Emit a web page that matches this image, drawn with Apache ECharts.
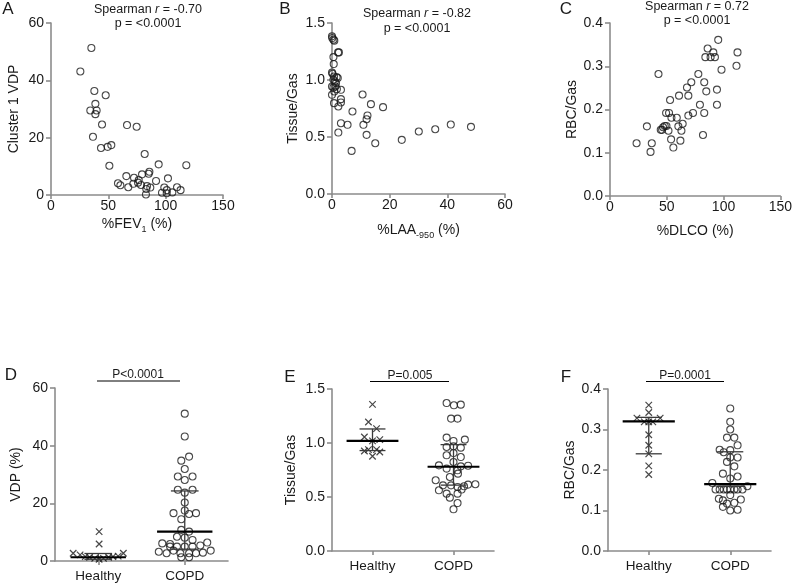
<!DOCTYPE html>
<html>
<head>
<meta charset="utf-8">
<script src="https://cdn.jsdelivr.net/npm/echarts@6/dist/echarts.min.js"></script>
<style>
html, body { margin: 0; padding: 0; background: #fff; }
#chart { width: 795px; height: 584px; }
</style>
</head>
<body>
<div id="chart"></div>
<script>
const FONT = '"Liberation Sans", Arial, sans-serif';
const AXIS_GREY = '#8c8c8c';
const INK = '#1a1a1a';

// A: %FEV1 vs cluster 1 VDP
const fev1 = [35.2, 25.6, 37.8, 47.7, 38.7, 34.3, 39.8, 38.7, 44.5, 66.3, 74.7, 36.6, 43.6, 49.4, 52.6, 50.9, 81.7, 93.9, 118, 65.7, 72.4, 79.4, 85.8, 85.2, 76.5, 102, 58.4, 60.5, 67.4, 71.8, 75.9, 78.5, 83.7, 86.6, 91.6, 83.1, 82.8, 98.8, 101, 96.8, 100.9, 105.8, 109.9, 113];
const vdpA = [51.3, 43.1, 36.3, 34.8, 31.8, 29.5, 29.5, 28.2, 24.6, 24.4, 23.8, 20.3, 16.4, 16.8, 17.4, 10.2, 14.3, 10.7, 10.4, 6.6, 6.0, 7.2, 8.1, 7.4, 5.2, 5.8, 4.1, 3.4, 2.7, 3.9, 4.3, 3.5, 3.1, 2.6, 4.9, 2.1, 0.2, 2.6, 1.7, 0.8, 0.6, 0.9, 2.7, 1.7];

// B: %LAA-950 vs tissue/gas
const laa = [0, 0.1, 0.5, 0.8, 2.1, 2.4, 0.5, 0.6, 0, 0.2, 0.7, 1.6, 2.0, 0.5, 1.0, 0, 0.5, 1.2, 1.4, 1.7, 0.8, 3.1, 0, 0.7, 3.1, 3.1, 2.2, 10.6, 7.1, 13.5, 17.7, 12.3, 12.0, 10.9, 3.1, 5.4, 2.2, 12.0, 15.0, 6.8, 24.2, 30.1, 35.8, 41.2, 48.2];
const tissueB = [1.383, 1.368, 1.354, 1.345, 1.242, 1.242, 1.201, 1.140, 1.066, 1.055, 1.031, 1.025, 1.017, 1.002, 0.987, 0.943, 0.935, 0.943, 0.973, 0.920, 0.899, 0.914, 0.870, 0.797, 0.832, 0.803, 0.768, 0.873, 0.724, 0.788, 0.762, 0.689, 0.656, 0.607, 0.621, 0.607, 0.539, 0.519, 0.445, 0.378, 0.475, 0.548, 0.568, 0.609, 0.589];

// C: %DLCO vs RBC/gas
const dlco = [95.3, 86, 91, 84, 88.6, 92.4, 112.3, 111.4, 98.2, 42.7, 77.8, 71.6, 83, 67.8, 94.2, 84.8, 52.9, 60.8, 69, 79.2, 94.2, 49.4, 52, 73.1, 83, 58.8, 54.1, 69, 64, 60.2, 32.5, 48.2, 49.7, 46.8, 44.7, 45.9, 51.5, 62.9, 81.9, 53.8, 62, 23.4, 36.8, 35.7, 55.8];
const rbcC = [0.361, 0.341, 0.332, 0.321, 0.321, 0.321, 0.332, 0.301, 0.292, 0.282, 0.282, 0.263, 0.263, 0.251, 0.246, 0.242, 0.222, 0.232, 0.232, 0.211, 0.211, 0.192, 0.192, 0.192, 0.192, 0.181, 0.181, 0.186, 0.167, 0.161, 0.161, 0.162, 0.162, 0.159, 0.153, 0.153, 0.151, 0.151, 0.141, 0.131, 0.128, 0.122, 0.122, 0.102, 0.112];

const groups = ['Healthy', 'COPD'];

// D: VDP (%) by group (spread = horizontal offset within the column)
const dHealthy = [10.2, 5.9, 2.7, 2.1, 1.5, 1.3, 0.9, 0.6, 0.9, 1.3, 1.5, 1.7, 2.7];
const dHealthySpread = [0.01, 0.01, -0.29, -0.21, -0.15, -0.1, -0.04, 0.01, 0.06, 0.12, 0.17, 0.23, 0.29];
const dCopd = [51.1, 43.2, 36.2, 34.8, 31.9, 29.3, 29.3, 28.1, 24.7, 24.7, 23.7, 20.3, 16.6, 17.5, 16.3, 16.6, 14.5, 10.8, 10.2, 8.4, 8.1, 7.3, 5.9, 6.4, 6.1, 5.0, 5.0, 5.0, 5.0, 5.4, 3.2, 2.7, 3.6, 2.7, 2.7, 2.7, 2.9, 3.6, 1.3, 1.3];
const dCopdSpread = [0, 0, 0.05, -0.04, 0, -0.08, 0.09, 0, -0.08, 0.09, 0, 0, -0.13, 0, 0.05, 0.13, -0.04, -0.04, 0.05, -0.09, 0, 0.09, -0.17, 0.26, -0.26, -0.17, -0.09, 0, 0.09, 0.18, -0.3, -0.21, -0.13, -0.05, 0.05, 0.13, 0.21, 0.3, -0.04, 0.05];
const dMedian = [1.3, 10.2];
const dQ1 = [0.6, 4.1];
const dQ3 = [2.6, 24.3];

// E: tissue/gas by group
const eHealthy = [1.358, 1.194, 1.133, 1.056, 1.031, 1.019, 0.939, 0.926, 0.939, 0.917, 0.877];
const eHealthySpread = [0, -0.05, 0.05, -0.1, 0.09, 0, -0.05, -0.1, 0.05, 0.09, 0];
const eCopd = [1.370, 1.349, 1.355, 1.226, 1.226, 1.050, 1.019, 1.031, 0.963, 0.969, 0.957, 0.886, 0.907, 0.870, 0.824, 0.793, 0.763, 0.784, 0.790, 0.747, 0.685, 0.716, 0.655, 0.608, 0.608, 0.593, 0.599, 0.615, 0.618, 0.569, 0.562, 0.531, 0.494, 0.531, 0.444, 0.386];
const eCopdSpread = [-0.085, 0.005, 0.09, -0.03, 0.05, -0.085, 0, 0.14, -0.085, 0, 0.09, -0.085, 0, 0.09, 0, -0.18, -0.085, 0.09, 0.18, 0.05, -0.045, 0.055, -0.22, -0.13, -0.03, 0.05, 0.13, 0.18, 0.27, 0.1, -0.18, -0.085, -0.045, 0.05, 0.05, 0];
const eMedian = [1.02, 0.78];
const eQ1 = [0.93, 0.61];
const eQ3 = [1.13, 0.985];

// F: RBC/gas by group
const fHealthy = [0.360, 0.342, 0.328, 0.328, 0.319, 0.319, 0.319, 0.287, 0.261, 0.240, 0.210, 0.189];
const fHealthySpread = [0, 0, -0.145, 0.14, -0.055, 0.05, 0, 0, 0, 0, 0, 0];
const fCopd = [0.352, 0.319, 0.300, 0.280, 0.280, 0.261, 0.250, 0.244, 0.249, 0.231, 0.220, 0.231, 0.209, 0.191, 0.184, 0.179, 0.168, 0.152, 0.152, 0.152, 0.152, 0.152, 0.152, 0.152, 0.152, 0.160, 0.129, 0.125, 0.138, 0.127, 0.117, 0.119, 0.109, 0.100, 0.102];
const fCopdSpread = [0, 0, 0, -0.04, 0.05, 0.09, -0.13, -0.08, 0, 0, -0.04, 0.09, 0.05, -0.09, 0.09, 0, -0.22, -0.18, -0.13, -0.08, -0.04, 0, 0.05, 0.09, 0.15, 0.21, -0.14, -0.09, 0, 0.13, -0.04, 0.05, -0.09, 0, 0.09];
const fMedian = [0.32, 0.165];
const fQ1 = [0.24, 0.16];
const fQ3 = [0.33, 0.245];

const zip = (xs, ys) => xs.map((x, i) => [x, ys[i]]);
const swarm = (cat, spread, vals) => vals.map((v, i) => [cat + 0.5 + spread[i], v]);
const summary = (med, q1, q3) => med.map((m, i) => [i + 0.5, m, q1[i], q3[i]]);

const MED_HALF = 0.32;
const CAP_HALF = 0.16;

const labelStyle = { fontSize: 14, color: INK, fontFamily: FONT };
const lineStyle = { color: AXIS_GREY, width: 1.6 };

function yAxis(gi, min, max, interval, name, gap, dec) {
  return {
    type: 'value', gridIndex: gi, min, max, interval,
    name, nameLocation: 'middle', nameGap: gap,
    nameTextStyle: { fontSize: 14, color: INK, fontFamily: FONT },
    axisLine: { show: true, lineStyle },
    axisTick: { show: true, length: 5, lineStyle },
    axisLabel: Object.assign({ margin: 7, formatter: v => dec ? v.toFixed(dec) : String(v) }, labelStyle),
    splitLine: { show: false }
  };
}

function xValueAxis(gi, min, max, interval, name, gap) {
  return {
    type: 'value', gridIndex: gi, min, max, interval,
    name, nameLocation: 'middle', nameGap: gap,
    nameTextStyle: {
      fontSize: 14, color: INK, fontFamily: FONT, lineHeight: 20,
      rich: { s: { fontSize: 9, lineHeight: 8, verticalAlign: 'bottom', fontFamily: FONT, color: INK } }
    },
    axisLine: { show: true, onZero: false, lineStyle },
    axisTick: { show: true, length: 4, lineStyle },
    axisLabel: Object.assign({ margin: 4 }, labelStyle),
    splitLine: { show: false }
  };
}

function xCategoryAxis(gi) {
  return {
    type: 'category', gridIndex: gi, data: groups,
    axisLine: { show: true, onZero: false, lineStyle },
    axisTick: { show: true, length: 4, alignWithLabel: true, lineStyle },
    axisLabel: { margin: 8, fontSize: 13.5, color: INK, fontFamily: FONT },
    splitLine: { show: false }
  };
}

function xHiddenAxis(gi) {
  return { type: 'value', gridIndex: gi, min: 0, max: 2, show: false };
}

const circleStyle = { color: 'rgba(0,0,0,0)', borderColor: INK, borderWidth: 1.1 };
const crossStyle = { color: 'rgba(0,0,0,0)', borderColor: INK, borderWidth: 1.2 };
const CROSS = 'path://M0,0L10,10M10,0L0,10';

function circles(xi, yi, data) {
  return { type: 'scatter', xAxisIndex: xi, yAxisIndex: yi, data, symbol: 'circle', symbolSize: 7, itemStyle: circleStyle, silent: true };
}
function crosses(xi, yi, data) {
  return { type: 'scatter', xAxisIndex: xi, yAxisIndex: yi, data, symbol: CROSS, symbolSize: 6.5, itemStyle: crossStyle, silent: true };
}

function summaryRender(params, api) {
  const c = api.value(0), med = api.value(1), q1 = api.value(2), q3 = api.value(3);
  const p = (x, y) => api.coord([x, y]);
  const seg = (a, b, style) => ({ type: 'line', shape: { x1: a[0], y1: a[1], x2: b[0], y2: b[1] }, style });
  const thin = { stroke: '#3a3a3a', lineWidth: 1.3 };
  const thick = { stroke: '#000', lineWidth: 2.2 };
  return {
    type: 'group',
    children: [
      seg(p(c, q1), p(c, q3), thin),
      seg(p(c - CAP_HALF, q1), p(c + CAP_HALF, q1), thin),
      seg(p(c - CAP_HALF, q3), p(c + CAP_HALF, q3), thin),
      seg(p(c - MED_HALF, med), p(c + MED_HALF, med), thick)
    ]
  };
}
function summarySeries(xi, yi, data) {
  return { type: 'custom', xAxisIndex: xi, yAxisIndex: yi, data, renderItem: summaryRender, silent: true, z: 5 };
}

function txt(x, y, text, size, extra) {
  return {
    type: 'text', x, y, silent: true,
    style: Object.assign({ text, fill: INK, fontSize: size, fontFamily: FONT, align: 'center', verticalAlign: 'middle' }, extra || {})
  };
}
function hline(x1, x2, y) {
  return { type: 'line', silent: true, shape: { x1, y1: y, x2, y2: y }, style: { stroke: '#000', lineWidth: 1 } };
}
const italicR = { rich: { i: { fontStyle: 'italic', fontSize: 12.5, fontFamily: FONT, fill: INK } } };

const option = {
  animation: false,
  backgroundColor: '#fff',
  grid: [
    { left: 51, top: 23, width: 172, height: 172 },
    { left: 332, top: 23, width: 173, height: 171 },
    { left: 610, top: 23, width: 172, height: 173 },
    { left: 55, top: 388, width: 173, height: 173 },
    { left: 332, top: 389, width: 162, height: 162 },
    { left: 608, top: 389, width: 163, height: 162 }
  ],
  xAxis: [
    xValueAxis(0, 0, 150, 50, '%FEV{s|1} (%)', 19),
    xValueAxis(1, 0, 60, 20, '%LAA{s|-950} (%)', 26),
    xValueAxis(2, 0, 150, 50, '%DLCO (%)', 25),
    xCategoryAxis(3), xHiddenAxis(3),
    xCategoryAxis(4), xHiddenAxis(4),
    xCategoryAxis(5), xHiddenAxis(5)
  ],
  yAxis: [
    yAxis(0, 0, 60, 20, 'Cluster 1 VDP', 30, 0),
    yAxis(1, 0, 1.5, 0.5, 'Tissue/Gas', 32, 1),
    yAxis(2, 0, 0.4, 0.1, 'RBC/Gas', 30, 1),
    yAxis(3, 0, 60, 20, 'VDP (%)', 32, 0),
    yAxis(4, 0, 1.5, 0.5, 'Tissue/Gas', 34, 1),
    yAxis(5, 0, 0.4, 0.1, 'RBC/Gas', 31, 1)
  ],
  series: [
    circles(0, 0, zip(fev1, vdpA)),
    circles(1, 1, zip(laa, tissueB)),
    circles(2, 2, zip(dlco, rbcC)),
    crosses(4, 3, swarm(0, dHealthySpread, dHealthy)),
    circles(4, 3, swarm(1, dCopdSpread, dCopd)),
    summarySeries(4, 3, summary(dMedian, dQ1, dQ3)),
    crosses(6, 4, swarm(0, eHealthySpread, eHealthy)),
    circles(6, 4, swarm(1, eCopdSpread, eCopd)),
    summarySeries(6, 4, summary(eMedian, eQ1, eQ3)),
    crosses(8, 5, swarm(0, fHealthySpread, fHealthy)),
    circles(8, 5, swarm(1, fCopdSpread, fCopd)),
    summarySeries(8, 5, summary(fMedian, fQ1, fQ3))
  ],
  graphic: [
    txt(8, 9, 'A', 17), txt(285, 9, 'B', 17), txt(566, 9, 'C', 17),
    txt(11, 375, 'D', 17), txt(290, 377, 'E', 17), txt(566, 377, 'F', 17),
    txt(148, 10, 'Spearman {i|r} = -0.70', 12.5, italicR), txt(148, 24, 'p = <0.0001', 12.5),
    txt(417, 14, 'Spearman {i|r} = -0.82', 12.5, italicR), txt(417, 29, 'p = <0.0001', 12.5),
    txt(697, 7, 'Spearman {i|r} = 0.72', 12.5, italicR), txt(697, 21, 'p = <0.0001', 12.5),
    txt(138, 375, 'P<0.0001', 12), hline(97, 180, 381),
    txt(410, 376, 'P=0.005', 12), hline(370, 449, 381.5),
    txt(685, 376, 'P=0.0001', 12), hline(646, 724, 381.5)
  ]
};

echarts.init(document.getElementById('chart')).setOption(option);
</script>
</body>
</html>
